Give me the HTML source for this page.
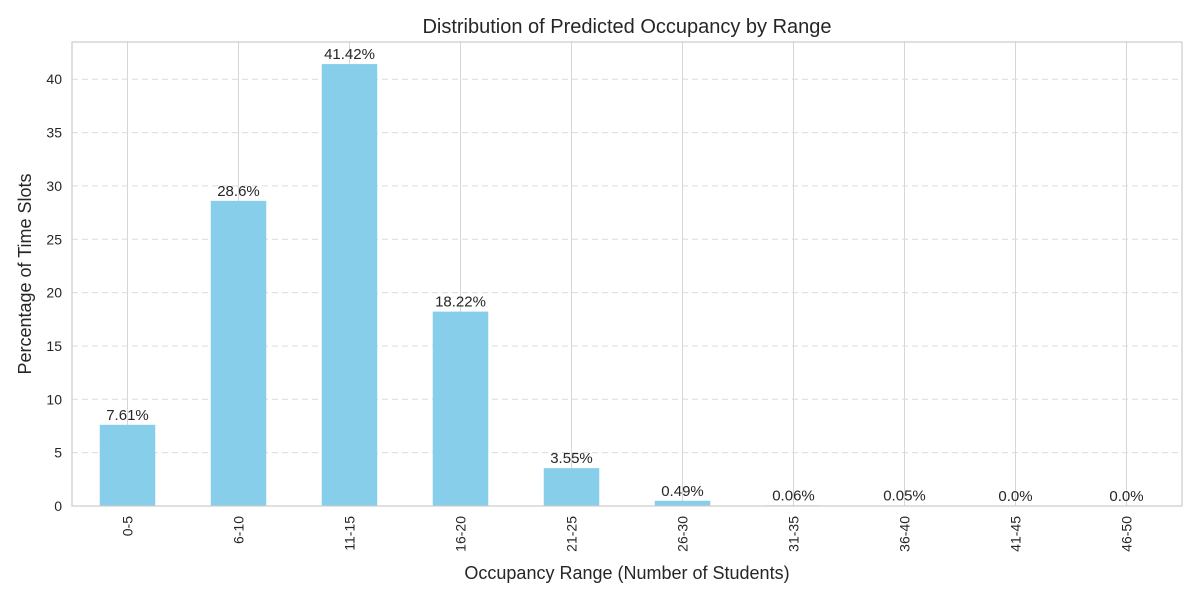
<!DOCTYPE html>
<html><head><meta charset="utf-8"><style>
body{margin:0;background:#fff;font-family:"Liberation Sans","DejaVu Sans",sans-serif}
</style></head><body>
<svg id="chart" width="1200" height="600" xmlns="http://www.w3.org/2000/svg" font-family="Liberation Sans, DejaVu Sans, sans-serif"></svg>
<script>
const categories=["0-5","6-10","11-15","16-20","21-25","26-30","31-35","36-40","41-45","46-50"];
const values=[7.61,28.6,41.42,18.22,3.55,0.49,0.06,0.05,0.0,0.0];
const valueLabels=["7.61%","28.6%","41.42%","18.22%","3.55%","0.49%","0.06%","0.05%","0.0%","0.0%"];
const yTicks=[0,5,10,15,20,25,30,35,40];
const svg=document.getElementById('chart');
const NS="http://www.w3.org/2000/svg";
const L=72,R=1182,T=42,B=506,yMax=43.49;
const step=(R-L)/categories.length;
const x=i=>L+step*(i+0.5);
const y=v=>B-(v/yMax)*(B-T);
function mk(t,a,txt){const e=document.createElementNS(NS,t);for(const k in a)e.setAttribute(k,a[k]);if(txt!==undefined)e.textContent=txt;svg.appendChild(e);return e;}
// vertical grid
categories.forEach((c,i)=>{const g=mk('line',{x1:x(i),x2:x(i),y1:T,y2:B,stroke:'#d6d6d6','stroke-width':1});

});
yTicks.forEach(t=>{const g=mk('line',{x1:L,x2:R,y1:y(t),y2:y(t),stroke:'#dcdcdc','stroke-width':1,'stroke-dasharray':'6,4'});


const l=mk('text',{x:L-10,y:y(t)+5,'text-anchor':'end','font-size':14,fill:'#262626'},t);

});
values.forEach((v,i)=>{const w=step*0.5;
const b=mk('rect',{x:x(i)-w/2,y:y(v),width:w,height:B-y(v),fill:'#87ceeb'});


const t=mk('text',{x:x(i),y:y(v)-5,'text-anchor':'middle','font-size':15,fill:'#262626'},valueLabels[i]);


const xl=mk('text',{x:0,y:0,'text-anchor':'end','font-size':14,fill:'#262626',transform:`translate(${x(i)+5},${B+10}) rotate(-90)`},categories[i]);

});
const fr=mk('rect',{x:L,y:T,width:R-L,height:B-T,fill:'none',stroke:'#cccccc','stroke-width':1.2});


const ti=mk('text',{x:(L+R)/2,y:33,'text-anchor':'middle','font-size':20,fill:'#262626'},'Distribution of Predicted Occupancy by Range');


const xt=mk('text',{x:(L+R)/2,y:579,'text-anchor':'middle','font-size':18,fill:'#262626'},'Occupancy Range (Number of Students)');


const yt=mk('text',{x:0,y:0,'text-anchor':'middle','font-size':18,fill:'#262626',transform:`translate(31,${(T+B)/2}) rotate(-90)`},'Percentage of Time Slots');


</script>
</body></html>
